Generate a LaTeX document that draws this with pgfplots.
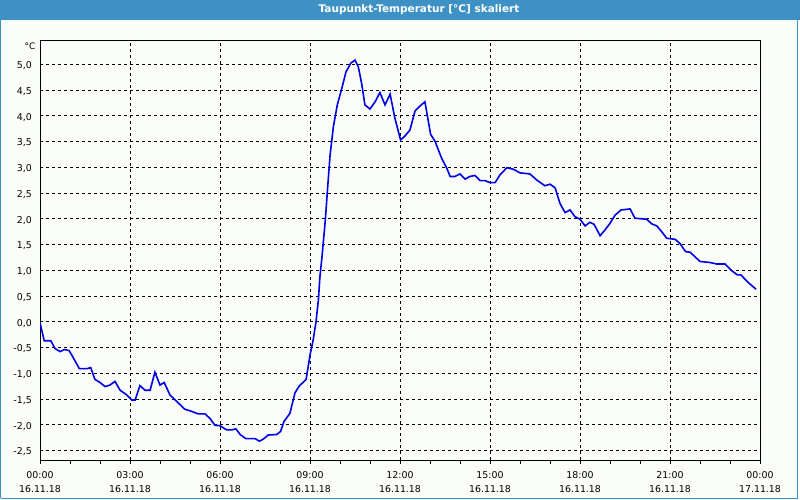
\documentclass[border=0pt]{standalone}
\usepackage{fontspec}
\setmainfont{DejaVu Sans}
\usepackage{pgfplots}
\pgfplotsset{compat=1.18}
\definecolor{bgcol}{RGB}{251,253,251}
\definecolor{titlecol}{RGB}{61,145,196}
\definecolor{linecol}{RGB}{0,0,228}
\begin{document}
\begin{tikzpicture}[x=1pt,y=1pt]
\useasboundingbox (0,0) rectangle (800,500);
\fill[bgcol] (0,0) rectangle (800,500);
\fill[titlecol] (0,479.5) rectangle (800,500);
\draw[titlecol, line width=1pt] (0.5,1.5) -- (0.5,480) (797.5,1.5) -- (797.5,480) (0.5,1.5) -- (797.5,1.5);
\node[white, font=\fontsize{10.5}{12}\selectfont\bfseries, inner sep=0pt] at (419,490) {Taupunkt-Temperatur [°C] skaliert};
\node[font=\fontsize{9}{10}\selectfont, inner sep=0pt] at (30,453.5) {°C};
\begin{axis}[
  at={(40pt,40pt)}, anchor=south west,
  scale only axis, width=720pt, height=420pt,
  xmin=0, xmax=24, ymin=-2.685, ymax=5.47,
  axis line style={black, line width=0.9pt},
  xtick={0,3,...,24},
  minor xtick={1,2,4,5,7,8,10,11,13,14,16,17,19,20,22,23},
  xticklabels={{00:00\\16.11.18},{03:00\\16.11.18},{06:00\\16.11.18},{09:00\\16.11.18},{12:00\\16.11.18},{15:00\\16.11.18},{18:00\\16.11.18},{21:00\\16.11.18},{00:00\\17.11.18}},
  xticklabel style={align=center, font=\fontsize{9.4}{14}\selectfont, inner sep=0pt, yshift=-7.5pt},
  ytick={-2.5,-2,-1.5,-1,-0.5,0,0.5,1,1.5,2,2.5,3,3.5,4,4.5,5},
  yticklabels={{-2,5},{-2,0},{-1,5},{-1,0},{-0,5},{0,0},{0,5},{1,0},{1,5},{2,0},{2,5},{3,0},{3,5},{4,0},{4,5},{5,0}},
  yticklabel style={font=\fontsize{9.4}{10}\selectfont, inner sep=0pt, xshift=-4pt, yshift=-1.5pt},
  xtick pos=bottom, ytick pos=left,
  tick align=outside,
  major tick length=4pt, minor tick length=4pt,
  every tick/.style={black, line width=0.8pt},
  ytick style={draw=none},
  grid=major,
  major grid style={black, line width=0.8pt, dash pattern=on 3pt off 3pt},
  clip=true,
]
\addplot[linecol, line width=1.6pt] coordinates {
(0,-0.02) (0.14,-0.37) (0.36,-0.37) (0.5,-0.52) (0.67,-0.58) (0.81,-0.54) (0.97,-0.56)
(1.09,-0.68) (1.31,-0.91) (1.58,-0.91) (1.69,-0.89) (1.83,-1.12) (2.0,-1.18) (2.17,-1.26)
(2.33,-1.23) (2.5,-1.16) (2.67,-1.33) (2.89,-1.42) (3.06,-1.52) (3.17,-1.52) (3.33,-1.24)
(3.5,-1.33) (3.67,-1.33) (3.83,-0.98) (4.0,-1.23) (4.14,-1.18) (4.33,-1.42) (4.56,-1.55)
(4.83,-1.70) (5.0,-1.73) (5.28,-1.79) (5.5,-1.79) (5.67,-1.88) (5.83,-2.01) (6.0,-2.02)
(6.22,-2.10) (6.39,-2.10) (6.53,-2.08) (6.67,-2.19) (6.86,-2.27) (7.17,-2.27) (7.31,-2.32)
(7.44,-2.28) (7.61,-2.20) (7.89,-2.19) (8.02,-2.13) (8.13,-1.94) (8.33,-1.78) (8.5,-1.38)
(8.64,-1.25) (8.87,-1.12) (9.0,-0.65) (9.11,-0.34) (9.2,0.0) (9.28,0.42) (9.33,0.87)
(9.4,1.26) (9.51,1.97) (9.59,2.62) (9.67,3.24) (9.78,3.79) (9.91,4.21) (10.06,4.53)
(10.2,4.85) (10.36,5.02) (10.5,5.08) (10.61,4.95) (10.72,4.63) (10.83,4.21) (11.0,4.13)
(11.17,4.27) (11.33,4.45) (11.5,4.21) (11.67,4.42) (11.83,3.95) (12.02,3.53) (12.17,3.61)
(12.33,3.72) (12.5,4.09) (12.67,4.19) (12.83,4.27) (13.02,3.64) (13.17,3.50) (13.39,3.17)
(13.56,2.98) (13.67,2.82) (13.83,2.82) (14.0,2.87) (14.17,2.77) (14.33,2.82) (14.5,2.84)
(14.67,2.74) (14.83,2.74) (15.0,2.70) (15.17,2.70) (15.33,2.85) (15.56,2.99) (15.78,2.96)
(16.0,2.89) (16.33,2.87) (16.56,2.75) (16.83,2.64) (17.0,2.67) (17.17,2.60) (17.33,2.30)
(17.5,2.12) (17.67,2.17) (17.83,2.04) (18.0,1.99) (18.17,1.86) (18.33,1.93) (18.47,1.89)
(18.67,1.67) (18.83,1.78) (19.0,1.91) (19.17,2.07) (19.37,2.17) (19.67,2.19) (19.83,2.01)
(20.22,1.99) (20.39,1.90) (20.56,1.86) (20.72,1.75) (20.89,1.62) (21.17,1.60) (21.33,1.52)
(21.52,1.36) (21.67,1.35) (22.0,1.17) (22.33,1.15) (22.56,1.12) (22.83,1.12) (23.06,0.99)
(23.24,0.91) (23.36,0.91) (23.61,0.76) (23.87,0.63)
};
\end{axis}
\end{tikzpicture}
\end{document}
